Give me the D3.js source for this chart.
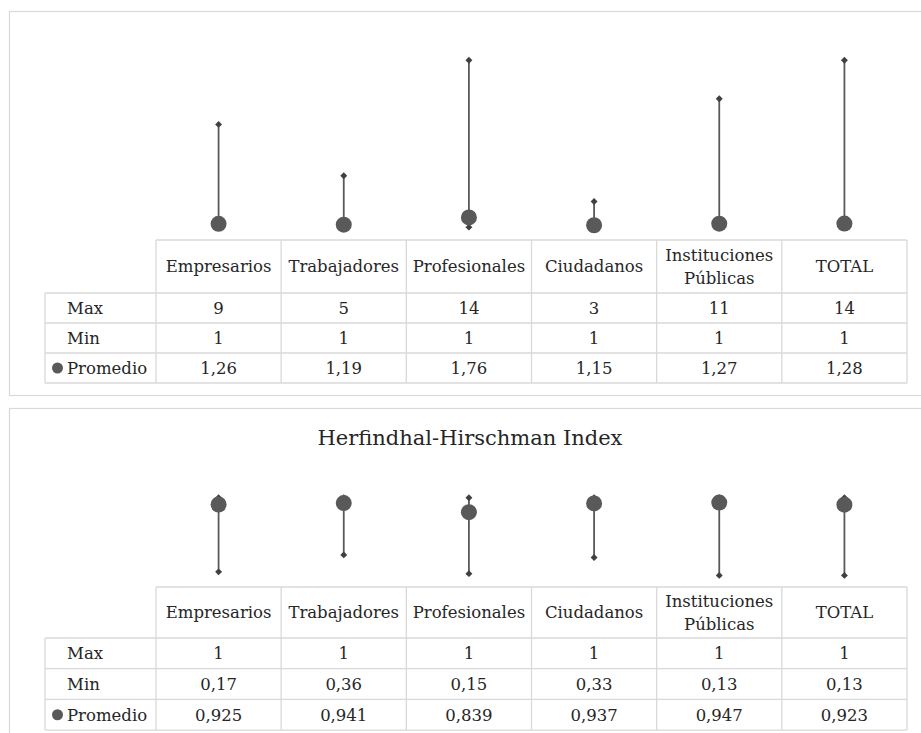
<!DOCTYPE html>
<html>
<head>
<meta charset="utf-8">
<script src="https://cdn.jsdelivr.net/npm/d3@7"></script>
<style>
  body { margin: 0; background: #fff; }
  svg { display: block; }
</style>
</head>
<body>
<div id="chart"></div>
<script>
const categories = ["Empresarios", "Trabajadores", "Profesionales", "Ciudadanos", "Instituciones Públicas", "TOTAL"]
const rowLabels = ["Max", "Min", "Promedio"]

// panel 1 (no title)
const countMax = [9, 5, 14, 3, 11, 14]
const countMin = [1, 1, 1, 1, 1, 1]
const countAvg = [1.26, 1.19, 1.76, 1.15, 1.27, 1.28]

// panel 2: Herfindhal-Hirschman Index
const hhiMax = [1, 1, 1, 1, 1, 1]
const hhiMin = [0.17, 0.36, 0.15, 0.33, 0.13, 0.13]
const hhiAvg = [0.925, 0.941, 0.839, 0.937, 0.947, 0.923]

const W = 921, H = 733
const font = "'DejaVu Serif', serif"
const textColor = "#262626"
const gridColor = "#d9d9d9"
const markColor = "#595959"

const svg = d3.select("#chart").append("svg")
  .attr("width", W)
  .attr("height", H)
  .attr("viewBox", [0, 0, W, H])

const fmt = v => String(v).replace(".", ",")

function drawPanel(cfg) {
  const g = svg.append("g")

  // chart area border
  g.append("rect")
    .attr("x", 9.5).attr("y", cfg.boxTop + 0.5)
    .attr("width", 930).attr("height", cfg.boxHeight)
    .attr("fill", "#fff")
    .attr("stroke", gridColor)
    .attr("stroke-width", 1.2)

  if (cfg.title) {
    g.append("text")
      .attr("x", 470)
      .attr("y", cfg.titleY)
      .attr("text-anchor", "middle")
      .attr("font-family", font)
      .attr("font-size", "21px")
      .attr("fill", textColor)
      .text(cfg.title)
  }

  const x = d3.scaleBand().domain(categories).range([156, 907])
  const cx = c => x(c) + x.bandwidth() / 2
  const y = d3.scaleLinear().domain(cfg.domain).range([cfg.tableTop, cfg.plotTop])

  const rows = categories.map((c, i) => ({ c, max: cfg.max[i], min: cfg.min[i], avg: cfg.avg[i] }))

  // high-low lines
  g.selectAll(".hl")
    .data(rows)
    .enter().append("line")
    .attr("x1", d => cx(d.c)).attr("x2", d => cx(d.c))
    .attr("y1", d => y(d.max)).attr("y2", d => y(d.min))
    .attr("stroke", markColor)
    .attr("stroke-width", 1.8)

  const diamond = d3.symbol().type(d3.symbolSquare).size(24)
  g.selectAll(".dmax")
    .data(rows)
    .enter().append("path")
    .attr("d", diamond)
    .attr("transform", d => `translate(${cx(d.c)},${y(d.max)}) rotate(45)`)
    .attr("fill", "#404040")
  g.selectAll(".dmin")
    .data(rows)
    .enter().append("path")
    .attr("d", diamond)
    .attr("transform", d => `translate(${cx(d.c)},${y(d.min)}) rotate(45)`)
    .attr("fill", "#404040")

  g.selectAll(".avg")
    .data(rows)
    .enter().append("circle")
    .attr("cx", d => cx(d.c))
    .attr("cy", d => y(d.avg))
    .attr("r", 8)
    .attr("fill", markColor)

  // data table
  const t = cfg.tableTop
  const hdrBottom = t + cfg.headerH
  const rowY = [0, 1, 2, 3].map(k => hdrBottom + k * cfg.rowH)
  const left = 45, right = 907

  const grid = g.append("g")
    .attr("stroke", gridColor)
    .attr("stroke-width", 1.3)
  grid.append("line").attr("x1", 156).attr("x2", right).attr("y1", t).attr("y2", t)
  rowY.forEach(yy => grid.append("line").attr("x1", left).attr("x2", right).attr("y1", yy).attr("y2", yy))
  grid.append("line").attr("x1", left).attr("x2", left).attr("y1", hdrBottom).attr("y2", rowY[3])
  categories.forEach(c => grid.append("line").attr("x1", x(c)).attr("x2", x(c)).attr("y1", t).attr("y2", rowY[3]))
  grid.append("line").attr("x1", right).attr("x2", right).attr("y1", t).attr("y2", rowY[3])

  const fs = 16.5
  const txt = g.append("g")
    .attr("font-family", font)
    .attr("font-size", fs + "px")
    .attr("fill", textColor)
    .attr("text-anchor", "middle")

  // header
  const hc = t + cfg.headerH / 2
  categories.forEach(c => {
    const words = c.split(" ")
    if (words.length > 1) {
      txt.append("text").attr("x", cx(c)).attr("y", hc - 11.5).attr("dy", "0.36em").text(words[0])
      txt.append("text").attr("x", cx(c)).attr("y", hc + 11.5).attr("dy", "0.36em").text(words[1])
    } else {
      txt.append("text").attr("x", cx(c)).attr("y", hc).attr("dy", "0.36em").text(c)
    }
  })

  const series = [cfg.max, cfg.min, cfg.avg]
  rowLabels.forEach((lab, r) => {
    const yc = rowY[r] + cfg.rowH / 2
    txt.append("text")
      .attr("x", 67).attr("y", yc).attr("dy", "0.36em")
      .attr("text-anchor", "start")
      .text(lab)
    categories.forEach((c, i) => {
      txt.append("text").attr("x", cx(c)).attr("y", yc).attr("dy", "0.36em").text(fmt(series[r][i]))
    })
  })
  // legend key for Promedio
  g.append("circle")
    .attr("cx", 57.5)
    .attr("cy", rowY[2] + cfg.rowH / 2)
    .attr("r", 5.5)
    .attr("fill", markColor)
}

drawPanel({
  boxTop: 11, boxHeight: 384,
  domain: [0, 16], tableTop: 240, plotTop: 34.5,
  headerH: 53, rowH: 30,
  max: countMax, min: countMin, avg: countAvg
})

drawPanel({
  boxTop: 408, boxHeight: 400,
  title: "Herfindhal-Hirschman Index", titleY: 445,
  domain: [0, 1.2], tableTop: 587, plotTop: 480,
  headerH: 51, rowH: 30.7,
  max: hhiMax, min: hhiMin, avg: hhiAvg
})
</script>
</body>
</html>
